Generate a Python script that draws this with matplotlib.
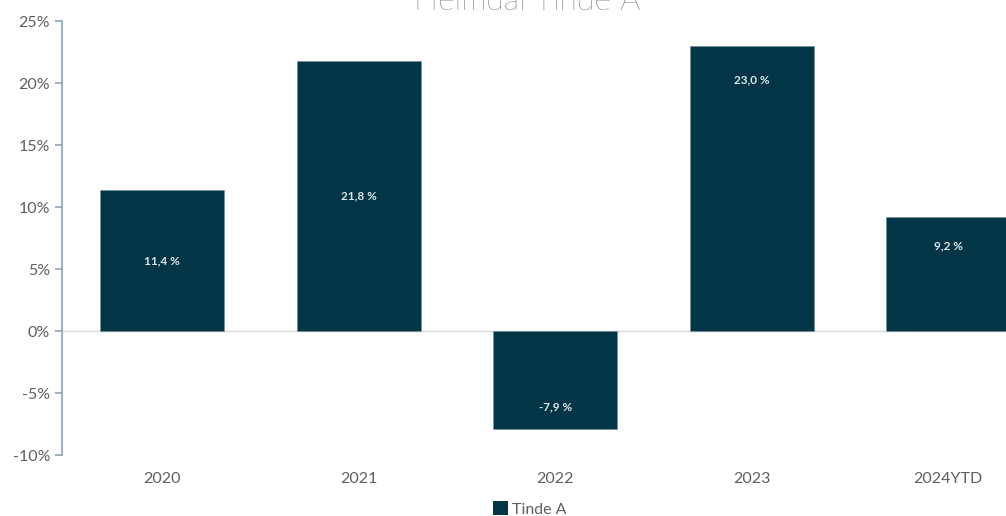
import matplotlib
matplotlib.use("Agg")
import matplotlib.pyplot as plt
from matplotlib.patches import Patch
from matplotlib.ticker import FuncFormatter

# data
years = ["2020", "2021", "2022", "2023", "2024YTD"]
returns = [11.4, 21.8, -7.9, 23.0, 9.2]
label_frac = [0.5, 0.5, 0.77, 0.88, 0.75]   # where the value label sits inside each bar

bar_color = "#023546"
grey = "#5f5f5f"
plt.rcParams["font.family"] = ["Lato", "DejaVu Sans"]

fig = plt.figure(figsize=(10.06, 5.16), dpi=100)
ax = fig.add_axes([0.0616, 0.1182, 0.9787, 0.841])

pos = list(range(len(years)))
ax.bar(pos, returns, width=0.63, color=bar_color, edgecolor="#6f8f9c", linewidth=0.4, zorder=3)
ax.axhline(0, color="#d9d9d9", linewidth=1, zorder=1)

for x, v, f in zip(pos, returns, label_frac):
    ax.text(x, v * f, f"{v:.1f} %".replace(".", ","), ha="center", va="center",
            color="#dfe6ea", fontsize=8.5, fontweight="bold", zorder=4)

ax.set_xlim(-0.51, 4.5)
ax.set_ylim(-10, 25)
ax.set_yticks(range(-10, 26, 5))
ax.yaxis.set_major_formatter(FuncFormatter(lambda v, _: f"{v:.0f}%"))
ax.set_xticks(pos)
ax.set_xticklabels(years)

for s in ["top", "right", "bottom"]:
    ax.spines[s].set_visible(False)
ax.spines["left"].set_color("#8aa6b5")
ax.spines["left"].set_linewidth(1.2)
ax.tick_params(axis="y", colors="#8aa6b5", labelcolor=grey, labelsize=11.5, length=5, width=1.2)
ax.tick_params(axis="x", length=0, labelcolor=grey, labelsize=11.5, pad=12)

fig.text(527 / 1006, 1 - 10 / 516, "Heimdal Tinde A", ha="center", va="baseline",
         fontsize=23, fontweight="light", color="#333333")

fig.legend(handles=[Patch(facecolor=bar_color, label="Tinde A")], loc="center",
           bbox_to_anchor=(530 / 1006, 1 - 509 / 516), frameon=False, fontsize=11.5,
           handlelength=0.9, handleheight=0.9, handletextpad=0.3, labelcolor=grey)

fig.savefig("out.png", dpi=100)
